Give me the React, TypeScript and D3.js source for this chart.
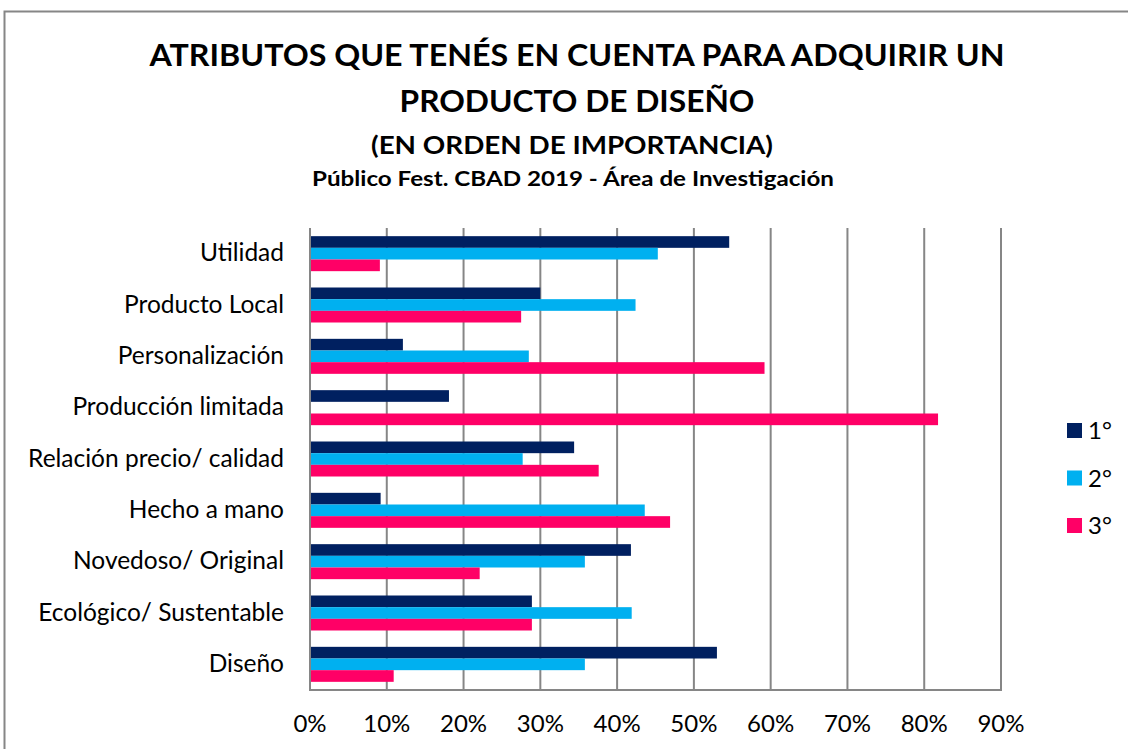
import React from "react";
import * as d3 from "d3";

const categories = [
  "Utilidad",
  "Producto Local",
  "Personalización",
  "Producción limitada",
  "Relación precio/ calidad",
  "Hecho a mano",
  "Novedoso/ Original",
  "Ecológico/ Sustentable",
  "Diseño",
];
const seriesNames = ["1°", "2°", "3°"];
const first = [54.6, 30.0, 12.1, 18.1, 34.4, 9.2, 41.8, 28.9, 53.0];
const second = [45.3, 42.4, 28.5, 0, 27.7, 43.6, 35.8, 41.9, 35.8];
const third = [9.1, 27.5, 59.2, 81.8, 37.6, 46.9, 22.1, 28.9, 10.9];
const colors = ["#002060", "#00B0F0", "#FF0066"];
const ticks = [0, 10, 20, 30, 40, 50, 60, 70, 80, 90];

const W = 1128;
const H = 749;
const FONT = "Lato, 'Liberation Sans', sans-serif";

export default function App() {
  const x = d3.scaleLinear().domain([0, 90]).range([310, 1001]);
  const y = d3.scaleBand<string>().domain(categories).range([228, 690]);
  const inner = d3
    .scaleBand<string>()
    .domain(seriesNames)
    .range([0, y.bandwidth()])
    .paddingInner(0)
    .paddingOuter(0.7);
  const series = [first, second, third];

  return (
    <svg
      width={W}
      height={H}
      style={{ position: "absolute", left: 0, top: 0 }}
    >
      <rect x={0} y={0} width={W} height={H} fill="#fff" />
      <rect
        x={4.5}
        y={11.5}
        width={W + 10}
        height={H + 10}
        fill="none"
        stroke="#868686"
        strokeWidth={2}
      />
      <g fontFamily={FONT} fontWeight="bold" fill="#000" textAnchor="middle">
        <text x={577} y={66} fontSize={29.5} textLength={855} lengthAdjust="spacingAndGlyphs">
          ATRIBUTOS QUE TENÉS EN CUENTA PARA ADQUIRIR UN
        </text>
        <text x={577} y={112} fontSize={29.5} textLength={355} lengthAdjust="spacingAndGlyphs">
          PRODUCTO DE DISEÑO
        </text>
        <text x={572} y={154} fontSize={25} textLength={402} lengthAdjust="spacingAndGlyphs">
          (EN ORDEN DE IMPORTANCIA)
        </text>
        <text x={573} y={186} fontSize={20} textLength={522} lengthAdjust="spacingAndGlyphs">
          Público Fest. CBAD 2019 - Área de Investigación
        </text>
      </g>
      {ticks.map((t) => (
        <line
          key={t}
          x1={x(t)}
          x2={x(t)}
          y1={228}
          y2={690}
          stroke="#868686"
          strokeWidth={2}
        />
      ))}
      <line x1={309} x2={1002} y1={690} y2={690} stroke="#868686" strokeWidth={2} />
      {categories.map((c, i) => (
        <g key={c}>
          {series.map((s, j) =>
            s[i] > 0 ? (
              <rect
                key={j}
                x={x(0) + 1}
                y={(y(c) as number) + (inner(seriesNames[j]) as number)}
                width={x(s[i]) - x(0) - 1}
                height={inner.bandwidth()}
                fill={colors[j]}
              />
            ) : null
          )}
          <text
            x={284}
            y={(y(c) as number) + y.bandwidth() / 2 + 7.5}
            textAnchor="end"
            fontFamily={FONT}
            fontSize={24.5}
            fill="#000"
          >
            {c}
          </text>
        </g>
      ))}
      {ticks.map((t) => (
        <text
          key={t}
          x={x(t)}
          y={732}
          textAnchor="middle"
          fontFamily={FONT}
          fontSize={24}
          fill="#000"
        >
          {t}%
        </text>
      ))}
      {seriesNames.map((n, j) => (
        <g key={n} transform={`translate(1067, ${423 + j * 47.5})`}>
          <rect x={0} y={0} width={15} height={15} fill={colors[j]} />
          <text x={21} y={16} fontFamily={FONT} fontSize={24} fill="#000">
            {n}
          </text>
        </g>
      ))}
    </svg>
  );
}
